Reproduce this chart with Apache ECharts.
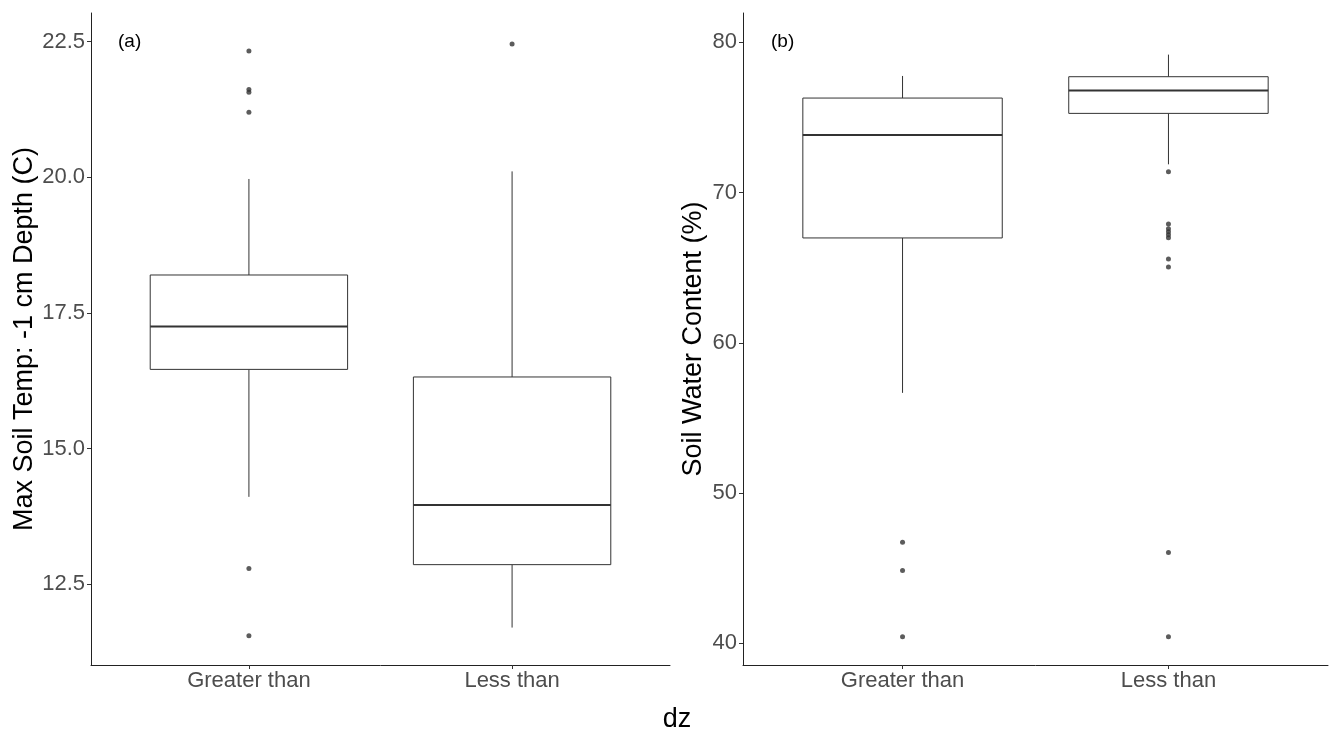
<!DOCTYPE html>
<html>
<head>
<meta charset="utf-8">
<script src="https://cdn.jsdelivr.net/npm/echarts@6/dist/echarts.min.js"></script>
<style>
  html, body { margin: 0; padding: 0; background: #fff; }
  #main { width: 1329px; height: 729px; }
</style>
</head>
<body>
<div id="main"></div>
<script>
// 分类
var categories = ['Greater than', 'Less than'];

// (a) 土壤温度 箱线: [下须, Q1, 中位数, Q3, 上须]
var tempGreater = [14.11, 16.46, 17.25, 18.20, 19.97];
var tempLess = [11.70, 12.86, 13.96, 16.32, 20.11];
var tempGreaterOut = [22.33, 21.62, 21.57, 21.20, 12.79, 11.55];
var tempLessOut = [22.46];
var tempTicks = [12.5, 15, 17.5, 20, 22.5];

// (b) 土壤含水量
var waterGreater = [56.67, 66.98, 73.83, 76.29, 77.76];
var waterLess = [71.88, 75.27, 76.80, 77.71, 79.18];
var waterGreaterOut = [46.73, 44.85, 40.44];
var waterLessOut = [71.38, 67.9, 67.6, 67.4, 67.2, 67.0, 65.58, 65.05, 46.05, 40.44];
var waterTicks = [40, 50, 60, 70, 80];

var FONT = '"Liberation Sans", Arial, sans-serif';
var chart = echarts.init(document.getElementById('main'));

// 箱体绘制
function renderBox(params, api) {
  var x = api.value(0);
  var lo = api.coord([x, api.value(1)]);
  var q1 = api.coord([x, api.value(2)]);
  var md = api.coord([x, api.value(3)]);
  var q3 = api.coord([x, api.value(4)]);
  var hi = api.coord([x, api.value(5)]);
  var hw = api.size([0.75, 0])[0] / 2;
  var line = { stroke: '#333', lineWidth: 1 };
  return {
    type: 'group',
    children: [
      { type: 'line', shape: { x1: hi[0], y1: hi[1], x2: q3[0], y2: q3[1] }, style: line },
      { type: 'line', shape: { x1: lo[0], y1: lo[1], x2: q1[0], y2: q1[1] }, style: line },
      { type: 'rect', shape: { x: md[0] - hw, y: q3[1], width: hw * 2, height: q1[1] - q3[1] },
        style: { fill: '#fff', stroke: '#333', lineWidth: 1 } },
      { type: 'line', shape: { x1: md[0] - hw, y1: md[1], x2: md[0] + hw, y2: md[1] },
        style: { stroke: '#333', lineWidth: 2 } }
    ]
  };
}

function boxData(a, b) {
  return [[1].concat(a), [2].concat(b)];
}
function outData(a, b) {
  return a.map(function (v) { return [1, v]; }).concat(b.map(function (v) { return [2, v]; }));
}

function xAxisFor(idx) {
  return {
    type: 'value', gridIndex: idx, min: 0.4, max: 2.6,
    splitLine: { show: false },
    axisLine: { show: true, lineStyle: { color: '#222', width: 1 } },
    axisTick: { show: true, length: 4, customValues: [1, 2], lineStyle: { color: '#333' } },
    axisLabel: {
      customValues: [1, 2], margin: 5, color: '#4d4d4d', fontSize: 22, fontFamily: FONT,
      formatter: function (v) { return categories[Math.round(v) - 1]; }
    }
  };
}

function yAxisFor(idx, min, max, ticks, digits, name, gap) {
  return {
    type: 'value', gridIndex: idx, min: min, max: max,
    splitLine: { show: false },
    axisLine: { show: true, lineStyle: { color: '#222', width: 1 } },
    axisTick: { show: true, length: 4, customValues: ticks, lineStyle: { color: '#333' } },
    axisLabel: {
      customValues: ticks, margin: 6, color: '#4d4d4d', fontSize: 22, fontFamily: FONT,
      formatter: function (v) { return v.toFixed(digits); }
    },
    name: name, nameLocation: 'middle', nameRotate: 90, nameGap: gap,
    nameTextStyle: { color: '#000', fontSize: 27, fontFamily: FONT }
  };
}

var option = {
  animation: false,
  backgroundColor: '#fff',
  grid: [
    { left: 91, right: 659, top: 13, bottom: 64 },
    { left: 743, right: 1, top: 13, bottom: 64 }
  ],
  xAxis: [xAxisFor(0), xAxisFor(1)],
  yAxis: [
    yAxisFor(0, 11.01, 23.03, tempTicks, 1, 'Max Soil Temp: -1 cm Depth (C)', 48),
    yAxisFor(1, 38.56, 81.95, waterTicks, 0, 'Soil Water Content (%)', 36)
  ],
  graphic: [
    { type: 'text', left: 118, top: 32, style: { text: '(a)', fontSize: 19, fontFamily: FONT, fill: '#000' } },
    { type: 'text', left: 771, top: 32, style: { text: '(b)', fontSize: 19, fontFamily: FONT, fill: '#000' } },
    { type: 'text', x: 677, y: 720, style: { text: 'dz', fontSize: 27, fontFamily: FONT, fill: '#000',
      textAlign: 'center', textVerticalAlign: 'middle' } }
  ],
  series: [
    { type: 'custom', xAxisIndex: 0, yAxisIndex: 0, renderItem: renderBox,
      encode: { x: 0, y: [1, 2, 3, 4, 5] }, data: boxData(tempGreater, tempLess) },
    { type: 'scatter', xAxisIndex: 0, yAxisIndex: 0, symbolSize: 5,
      itemStyle: { color: '#333' }, data: outData(tempGreaterOut, tempLessOut) },
    { type: 'custom', xAxisIndex: 1, yAxisIndex: 1, renderItem: renderBox,
      encode: { x: 0, y: [1, 2, 3, 4, 5] }, data: boxData(waterGreater, waterLess) },
    { type: 'scatter', xAxisIndex: 1, yAxisIndex: 1, symbolSize: 5,
      itemStyle: { color: '#333' }, data: outData(waterGreaterOut, waterLessOut) }
  ]
};

chart.setOption(option);
</script>
</body>
</html>
